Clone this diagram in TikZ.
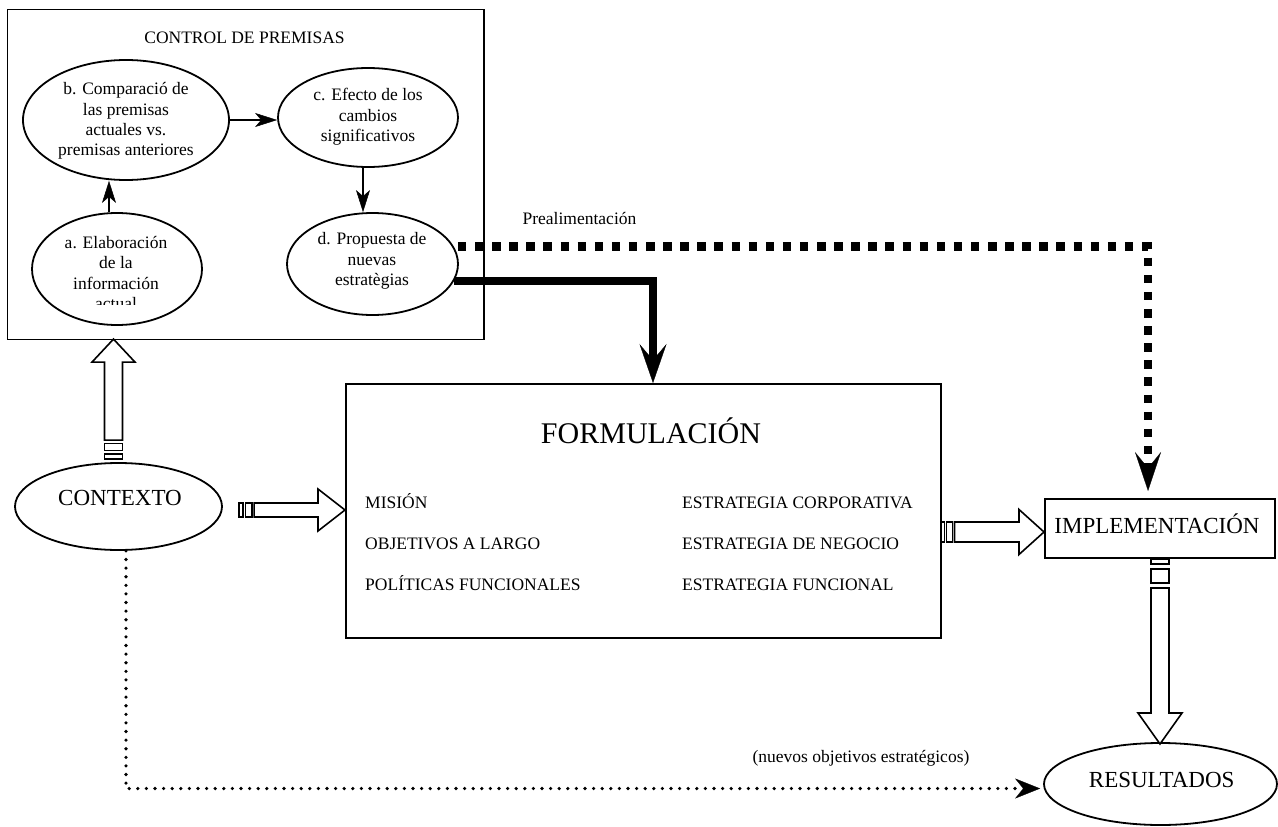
\documentclass[tikz,border=0pt]{standalone}
\usepackage{fontspec}
\setmainfont{Liberation Serif}
\usetikzlibrary{arrows.meta,calc,shapes.geometric}

\tikzset{
  ell/.style={draw, ellipse, line width=1.8pt, inner sep=0pt},
  etext/.style={align=center, font=\fontsize{17.5}{20.3}\selectfont, inner sep=0pt},
  ltext/.style={font=\fontsize{17.5}{21}\selectfont, inner sep=0pt, anchor=base west},
  mtext/.style={font=\fontsize{17.5}{21}\selectfont, inner sep=0pt, anchor=base},
  btext/.style={font=\fontsize{23}{27}\selectfont, inner sep=0pt, anchor=base},
  boxstyle/.style={draw, line width=2pt, inner sep=0pt},
  inarrow/.style={line width=2.5pt, -{Stealth[length=22pt,width=14pt,inset=6pt,line width=0.5pt]}},
  blk/.style={draw, line width=1.6pt, fill=white, line join=miter},
  heavy/.style={line width=8.3pt, -{Stealth[length=39pt,width=27pt,inset=16pt,line width=0.3pt]}},
  squaredots/.style={line width=8.5pt, dash pattern=on 8.5pt off 8.6pt, dash phase=13.1pt, -{Stealth[length=39pt,width=26pt,inset=16pt,line width=0.3pt]}},
  rounddots/.style={line width=3.6pt, line cap=round, dash pattern=on 0pt off 8.6pt, -{Stealth[length=25pt,width=20pt,inset=8pt,line width=0.3pt]}},
}

% striped block arrow: #1 tail point, #2 angle, #3 length, #4 thin stripe, #5 thick stripe,
% #6 gap, #7 head length, #8 shaft half width, #9 head half width
\newcommand\stripedarrow[9]{%
  \begin{scope}[shift={#1}, rotate=#2]
    \draw[blk] (0,-#8) rectangle (#4,#8);
    \draw[blk] ({#4+#6},-#8) rectangle ({#4+#6+#5},#8);
    \draw[blk] ({#4+2*#6+#5},-#8) -- ({#3-#7},-#8) -- ({#3-#7},-#9) -- (#3,0)
      -- ({#3-#7},#9) -- ({#3-#7},#8) -- ({#4+2*#6+#5},#8) -- cycle;
  \end{scope}}

\begin{document}
\begin{tikzpicture}[x=1pt, y=-1pt]
\path[use as bounding box, fill=white] (0,0) rectangle (1278,827);

% CONTROL DE PREMISAS
\node[draw, line width=1.5pt, minimum width=476.7pt, minimum height=330pt, inner sep=0pt] (ctrl) at (245.7,174.3) {};
\node[mtext] (ctrltitle) at (244.5,43.3) {CONTROL DE PREMISAS};

\node[ell, minimum width=206pt, minimum height=120pt] (b) at (126,120) {};
\node[etext] (bt) at (126,121.2) {b. Comparació de\\las premisas\\actuales vs.\\premisas anteriores};

\node[ell, minimum width=180pt, minimum height=99pt] (c) at (368,117.5) {};
\node[etext] (ct) at (368,117) {c. Efecto de los\\cambios\\significativos};

\node[ell, minimum width=170pt, minimum height=112pt] (a) at (117,269) {};
\begin{scope}
  \clip (0,0) rectangle (484,304);
  \node[etext] (atxt) at (116,273) {a. Elaboración\\de la\\información\\actual};
\end{scope}

\node[ell, minimum width=171pt, minimum height=102pt] (d) at (372.5,264) {};
\node[etext] (dt) at (372,261) {d. Propuesta de\\nuevas\\estratègias};

\draw[inarrow] ([xshift=-8pt]a.north) -- ([xshift=-8pt]a.north |- b.south);
\draw[inarrow] (b.east) -- (b.east -| c.west);
\draw[inarrow] ([xshift=-5pt]c.south) -- ([xshift=-5pt]c.south |- d.north);

% FORMULACION
\node[boxstyle, minimum width=595pt, minimum height=254pt] (form) at (643.5,511) {};
\node[inner sep=0pt, anchor=base, font=\fontsize{30}{36}\selectfont] (formt) at (651,443) {FORMULACIÓN};
\node[ltext] (l1) at (365,508) {MISIÓN};
\node[ltext] (l2) at (365,549) {OBJETIVOS A LARGO};
\node[ltext] (l3) at (365,590) {POLÍTICAS FUNCIONALES};
\node[ltext] (r1) at (682,508) {ESTRATEGIA CORPORATIVA};
\node[ltext] (r2) at (682,549) {ESTRATEGIA DE NEGOCIO};
\node[ltext] (r3) at (682,590) {ESTRATEGIA FUNCIONAL};

% IMPLEMENTACION
\node[boxstyle, minimum width=230pt, minimum height=59pt] (impl) at (1160,528.5) {};
\node[btext] (implt) at (1157,533) {IMPLEMENTACIÓN};

% CONTEXTO
\node[ell, minimum width=207pt, minimum height=87pt] (ctx) at (118.5,506.5) {};
\node[btext] (ctxt) at (120,505) {CONTEXTO};

% RESULTADOS
\node[ell, minimum width=233pt, minimum height=82pt] (res) at (1160.5,784) {};
\node[btext] (rest) at (1161.7,787) {RESULTADOS};

% connectors
\draw[heavy] (d.-12) -| ([xshift=9.5pt]form.north);
\draw[squaredots, shorten >=7pt] (d.12) -| ([xshift=-12pt]impl.north);
\node[mtext] (pre) at (579.5,224) {Prealimentación};

\draw[rounddots, shorten >=3pt] ([xshift=7.5pt]ctx.south) |- ([yshift=-4.5pt]res.west);
\node[mtext] (nuevos) at (861,762) {(nuevos objetivos estratégicos)};

% block arrows
\stripedarrow{($(ctx.north)+(-5,-3)$)}{90}{120}{5}{7}{3.5}{23}{9}{21.5}
\stripedarrow{($(form.west)+(-106,-1)$)}{0}{106}{4}{6.5}{2.3}{27}{7}{21}
\stripedarrow{($(impl.west)+(-103,3.5)$)}{0}{103}{3.5}{6}{2}{25}{10}{22.5}
\stripedarrow{(impl.south)}{-90}{185}{5}{14}{5}{31}{9}{22}
\end{tikzpicture}
\end{document}
